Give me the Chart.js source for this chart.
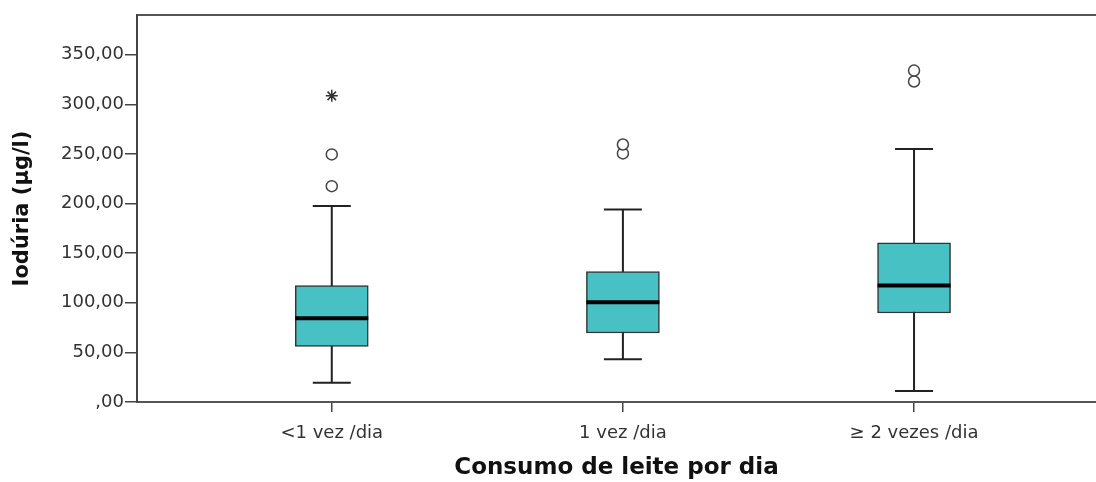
<!DOCTYPE html>
<html>
<head>
<meta charset="utf-8">
<script src="https://cdn.jsdelivr.net/npm/chart.js@4.4.1/dist/chart.umd.min.js"></script>
<style>
  body { margin: 0; background: #fff; }
  #wrap { width: 1096px; height: 482px; }
</style>
</head>
<body>
<div id="wrap"><canvas id="myChart"></canvas></div>
<script>
// data
const categories = ['<1 vez /dia', '1 vez /dia', '\u2265 2 vezes /dia'];
const whiskerLow = [19.5, 43.2, 11.1];
const q1 = [56, 69.5, 89.7];
const median = [84.3, 100.4, 117.3];
const q3 = [117.3, 131.5, 160.5];
const whiskerHigh = [197.5, 193.9, 254.9];
const outliers = [[217.5, 249.5], [250.5, 259.5], [323, 334]];
const extremes = [[308.5], [], []];
const yTicks = [0, 50, 100, 150, 200, 250, 300, 350];

const boxColor = '#48c1c4';
const lineColor = '#222';

const xPos = categories.map((c, i) => i + 1);

const outlierPoints = [];
outliers.forEach((list, i) => list.forEach(v => outlierPoints.push({ x: xPos[i], y: v })));
const extremePoints = [];
extremes.forEach((list, i) => list.forEach(v => extremePoints.push({ x: xPos[i], y: v })));

// whiskers + caps under the boxes, medians on top
const boxParts = {
  id: 'boxParts',
  beforeDatasetsDraw(chart) {
    const ctx = chart.ctx;
    const xs = chart.scales.x, ys = chart.scales.y;
    ctx.save();
    ctx.strokeStyle = lineColor;
    ctx.lineWidth = 2;
    xPos.forEach((p, i) => {
      const cx = xs.getPixelForValue(p);
      const half = 19;
      ctx.beginPath();
      ctx.moveTo(cx, ys.getPixelForValue(whiskerLow[i]));
      ctx.lineTo(cx, ys.getPixelForValue(whiskerHigh[i]));
      [whiskerLow[i], whiskerHigh[i]].forEach(v => {
        const y = ys.getPixelForValue(v);
        ctx.moveTo(cx - half, y);
        ctx.lineTo(cx + half, y);
      });
      ctx.stroke();
    });
    ctx.restore();
  },
  afterDatasetsDraw(chart) {
    const ctx = chart.ctx;
    const xs = chart.scales.x, ys = chart.scales.y;
    const bars = chart.getDatasetMeta(0).data;
    ctx.save();
    ctx.strokeStyle = '#000';
    ctx.lineWidth = 4;
    xPos.forEach((p, i) => {
      const y = ys.getPixelForValue(median[i]);
      const w = bars[i].width / 2;
      const cx = xs.getPixelForValue(p);
      ctx.beginPath();
      ctx.moveTo(cx - w, y);
      ctx.lineTo(cx + w, y);
      ctx.stroke();
    });
    ctx.restore();
  }
};

const ctx = document.getElementById('myChart').getContext('2d');

const chart = new Chart(ctx, {
  type: 'bar',
  data: {
    datasets: [{
      type: 'bar',
      data: xPos.map((p, i) => ({ x: p, y: [q1[i], q3[i]] })),
      backgroundColor: boxColor,
      borderColor: '#333',
      borderWidth: 1.5,
      borderSkipped: false,
      barThickness: 73
    },
    {
      type: 'scatter',
      data: outlierPoints,
      pointStyle: 'circle',
      pointRadius: 5.5,
      pointBorderWidth: 1.5,
      pointBorderColor: '#444',
      pointBackgroundColor: '#fff'
    },
    {
      type: 'scatter',
      data: extremePoints,
      pointStyle: 'star',
      pointRadius: 6,
      pointBorderWidth: 1.5,
      pointBorderColor: '#333'
    }]
  },
  options: {
    responsive: true,
    maintainAspectRatio: false,
    animation: false,
    layout: { padding: 0, autoPadding: false },
    plugins: {
      legend: { display: false },
      tooltip: { enabled: false }
    },
    scales: {
      x: {
        type: 'linear',
        position: 'bottom',
        offset: false,
        min: 0.331,
        max: 3.625,
        afterBuildTicks: function(scale) {
          scale.ticks = xPos.map(v => ({ value: v }));
        },
        afterFit: function(scale) { scale.height = 80; },
        ticks: {
          padding: 11,
          color: '#333',
          maxRotation: 0,
          font: { family: 'DejaVu Sans', size: 18 },
          callback: function(v) { return categories[v - 1]; }
        },
        grid: { offset: false, drawOnChartArea: false, drawTicks: true, tickLength: 10, color: '#444', lineWidth: 1.5 },
        border: { display: true, color: '#555', width: 2 },
        title: {
          display: true,
          text: 'Consumo de leite por dia',
          color: '#111',
          font: { family: 'DejaVu Sans', size: 23, weight: 'bold' },
          padding: { top: 2, bottom: 0 }
        }
      },
      x2: {
        type: 'linear',
        position: 'top',
        offset: false,
        min: 0.331,
        max: 3.625,
        afterFit: function(scale) { scale.height = 15; },
        ticks: { display: false },
        grid: { offset: false, drawOnChartArea: false, drawTicks: false },
        border: { display: true, color: '#555', width: 2 }
      },
      y: {
        min: 0,
        max: 390,
        afterBuildTicks: function(scale) {
          scale.ticks = yTicks.map(v => ({ value: v }));
        },
        afterFit: function(scale) { scale.width = 137; },
        ticks: {
          padding: 1,
          color: '#333',
          font: { family: 'DejaVu Sans', size: 18 },
          callback: function(v) {
            return v === 0 ? ',00' : v.toFixed(2).replace('.', ',');
          }
        },
        grid: { drawOnChartArea: false, drawTicks: true, tickLength: 12, color: '#444', lineWidth: 1.5 },
        border: { display: true, color: '#444', width: 2 },
        title: {
          display: true,
          text: 'Iodúria (µg/l)',
          color: '#111',
          font: { family: 'DejaVu Sans', size: 21, weight: 'bold' },
          padding: { top: 10, bottom: 0 }
        }
      }
    }
  },
  plugins: [boxParts]
});
</script>
</body>
</html>
